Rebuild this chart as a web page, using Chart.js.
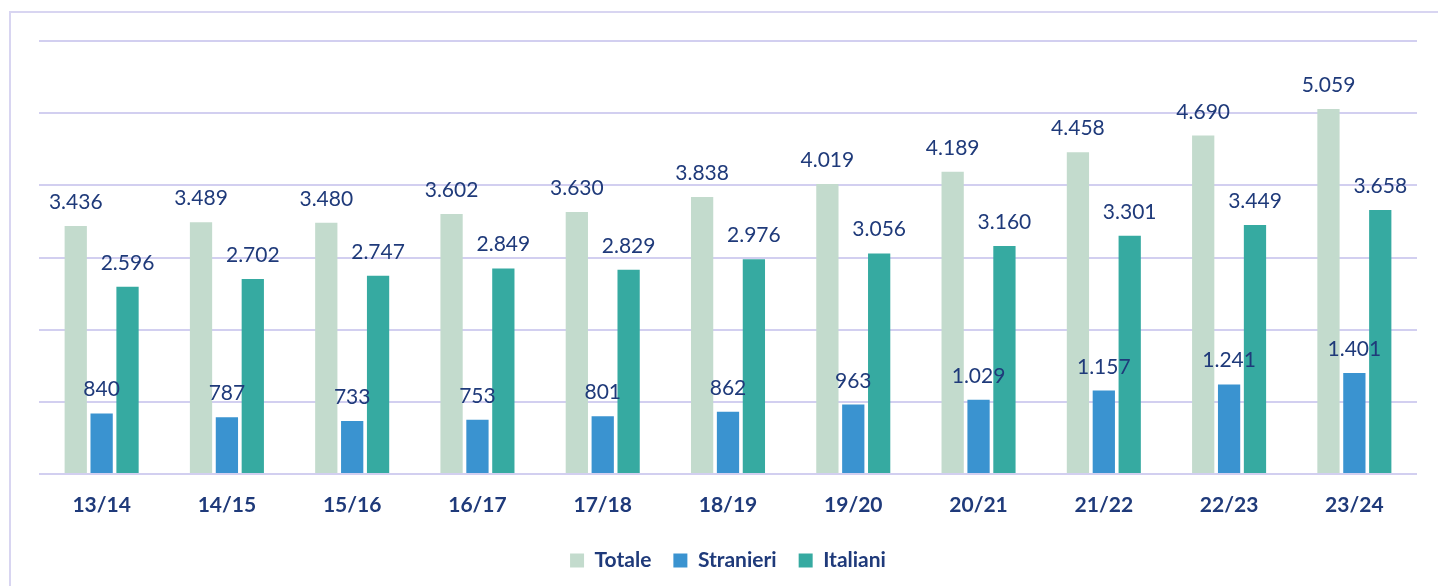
<!DOCTYPE html>
<html>
<head>
<meta charset="utf-8">
<script src="https://cdn.jsdelivr.net/npm/chart.js@4"></script>
<style>
  body { margin: 0; background: #fff; }
  #frame { position: absolute; left: 9px; top: 11px; width: 1440px; height: 590px;
           border-left: 2px solid #d8d5f1; border-top: 2px solid #d8d5f1; }
  #wrap { position: absolute; left: 0; top: 0; width: 1438px; height: 586px; }
</style>
</head>
<body>
<div id="frame"></div>
<div id="wrap"><canvas id="bar-chart"></canvas></div>
<script>
const years = ["13/14", "14/15", "15/16", "16/17", "17/18", "18/19", "19/20", "20/21", "21/22", "22/23", "23/24"];
const totale = [3436, 3489, 3480, 3602, 3630, 3838, 4019, 4189, 4458, 4690, 5059];
const stranieri = [840, 787, 733, 753, 801, 862, 963, 1029, 1157, 1241, 1401];
const italiani = [2596, 2702, 2747, 2849, 2829, 2976, 3056, 3160, 3301, 3449, 3658];

const navy = "#1f3a7a";

function formatIt(n) {
    return String(n).replace(/\B(?=(\d{3})+(?!\d))/g, ".");
}

// values over every bar
const valueLabels = {
    id: "valueLabels",
    afterDatasetsDraw(chart) {
        const ctx = chart.ctx;
        ctx.save();
        ctx.font = "21px Lato";
        ctx.fillStyle = navy;
        ctx.textAlign = "center";
        ctx.textBaseline = "alphabetic";
        chart.data.datasets.forEach((ds, i) => {
            chart.getDatasetMeta(i).data.forEach((bar, j) => {
                ctx.fillText(formatIt(ds.data[j]), bar.x, bar.y - 17);
            });
        });
        ctx.restore();
    }
};

new Chart(document.getElementById("bar-chart"), {
    type: "bar",
    data: {
        labels: years,
        datasets: [{
            label: "Totale",
            data: totale,
            backgroundColor: "#c3dbcd"
        }, {
            label: "Stranieri",
            data: stranieri,
            backgroundColor: "#3a93d0"
        }, {
            label: "Italiani",
            data: italiani,
            backgroundColor: "#36aaa1"
        }]
    },
    options: {
        responsive: true,
        maintainAspectRatio: false,
        animation: false,
        categoryPercentage: 0.62,
        barPercentage: 0.86,
        layout: {
            padding: {left: 39, right: 21, top: 41, bottom: 5}
        },
        plugins: {
            tooltip: {enabled: false},
            legend: {
                position: "bottom",
                labels: {
                    color: navy,
                    font: {family: "Lato", size: 21, weight: "bold", lineHeight: 1},
                    boxWidth: 14,
                    boxHeight: 14,
                    padding: 22
                }
            }
        },
        scales: {
            x: {
                grid: {display: false, drawTicks: false},
                border: {display: false},
                ticks: {
                    color: navy,
                    font: {family: "Lato", size: 21, weight: "bold", lineHeight: 1},
                    padding: 21
                },
                afterFit(scale) {
                    scale.height -= 9;
                }
            },
            y: {
                min: 0,
                max: 6000,
                ticks: {display: false, stepSize: 1000},
                grid: {color: "#d2cff0", lineWidth: 2, drawTicks: false},
                border: {display: false}
            }
        }
    },
    plugins: [valueLabels]
});
</script>
</body>
</html>
